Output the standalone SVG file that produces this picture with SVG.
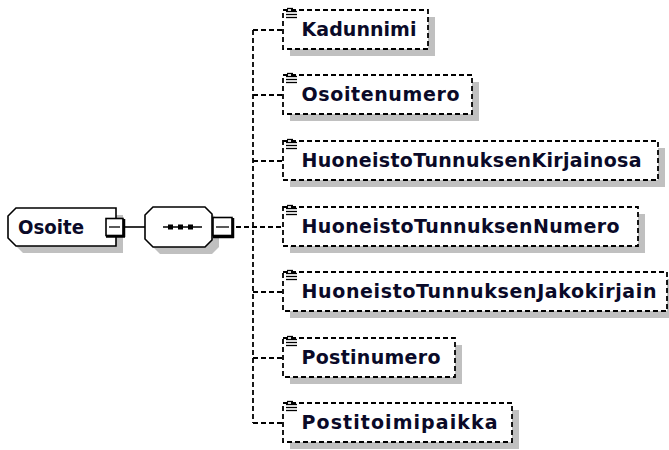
<svg xmlns="http://www.w3.org/2000/svg" width="669" height="450" viewBox="0 0 669 450">
<defs>
<style>
.shadow{fill:#c0c0c0;stroke:none}
.elem{fill:#fff;stroke:#000;stroke-width:1.8;stroke-dasharray:5 3}
.conn{fill:none;stroke:#000;stroke-width:1.8;stroke-dasharray:5 3}
.solid{fill:none;stroke:#000;stroke-width:1.6}
.node{fill:#fff;stroke:#000;stroke-width:1.6}
.lbl{font-family:"DejaVu Sans","Liberation Sans",sans-serif;font-weight:bold;font-size:19px;fill:#0a0a28}
.icon{stroke:#000;stroke-width:1.3}
</style>
<g id="ic">
<line class="icon" x1="287" y1="1.5" x2="293" y2="1.5"/>
<line class="icon" x1="286" y1="4.5" x2="297" y2="4.5"/>
<line class="icon" x1="286" y1="7.5" x2="297" y2="7.5"/>
<line class="icon" x1="286" y1="10.5" x2="297" y2="10.5"/>
</g>
</defs>
<rect width="669" height="450" fill="#fff"/>

<g id="connectors">
<line class="solid" x1="124" y1="227" x2="145" y2="227"/>
<line class="conn" x1="236" y1="227" x2="283" y2="227"/>
<line class="conn" x1="253" y1="30" x2="253" y2="423"/>
<line class="conn" x1="253" y1="30" x2="283" y2="30"/>
<line class="conn" x1="253" y1="95" x2="283" y2="95"/>
<line class="conn" x1="253" y1="161" x2="283" y2="161"/>
<line class="conn" x1="253" y1="292" x2="283" y2="292"/>
<line class="conn" x1="253" y1="358" x2="283" y2="358"/>
<line class="conn" x1="253" y1="423" x2="283" y2="423"/>
</g>

<g id="Osoite">
<polygon class="shadow" points="23,215 123,215 123,253 23,253 15,245 15,223"/>
<polygon class="node" points="16,208 116,208 116,246 16,246 8,238 8,216"/>
<text class="lbl" x="18" y="234" textLength="66" lengthAdjust="spacingAndGlyphs">Osoite</text>
<rect class="node" x="106" y="218.5" width="17" height="17"/>
<line x1="124" y1="219" x2="124" y2="237" stroke="#000" stroke-width="2.5"/>
<line x1="106" y1="236.5" x2="125" y2="236.5" stroke="#000" stroke-width="2.5"/>
<line x1="109" y1="227" x2="120" y2="227" stroke="#000" stroke-width="1.3"/>
</g>

<g id="sequence">
<polygon class="shadow" points="152,222 160,214 212,214 219,221 219,247 212,254 160,254 152,246"/>
<polygon class="node" points="145,215 153,207 205,207 212,214 212,240 205,247 153,247 145,239"/>
<line x1="163" y1="227" x2="202" y2="227" stroke="#000" stroke-width="1.5"/>
<rect x="168" y="224.5" width="5" height="5" fill="#000"/>
<rect x="178" y="224.5" width="5" height="5" fill="#000"/>
<rect x="188" y="224.5" width="5" height="5" fill="#000"/>
<rect class="node" x="213" y="217.5" width="19" height="18"/>
<line x1="233" y1="218" x2="233" y2="238" stroke="#000" stroke-width="2.5"/>
<line x1="213" y1="237" x2="234" y2="237" stroke="#000" stroke-width="2.5"/>
<line x1="216" y1="227" x2="229" y2="227" stroke="#000" stroke-width="1.3"/>
</g>

<g id="Kadunnimi">
<rect class="shadow" x="290" y="17" width="145" height="39"/>
<rect class="elem" x="283" y="10" width="145" height="39"/>
<use href="#ic" y="7"/>
<text class="lbl" x="301.5" y="36" textLength="115" lengthAdjust="spacing">Kadunnimi</text>
</g>

<g id="Osoitenumero">
<rect class="shadow" x="290" y="82" width="189" height="39"/>
<rect class="elem" x="283" y="75" width="189" height="39"/>
<use href="#ic" y="72"/>
<text class="lbl" x="301.5" y="101" textLength="158" lengthAdjust="spacing">Osoitenumero</text>
</g>

<g id="HuoneistoTunnuksenKirjainosa">
<rect class="shadow" x="290" y="148" width="375" height="39"/>
<rect class="elem" x="283" y="141" width="375" height="39"/>
<use href="#ic" y="138"/>
<text class="lbl" x="301.5" y="167" textLength="340" lengthAdjust="spacing">HuoneistoTunnuksenKirjainosa</text>
</g>

<g id="HuoneistoTunnuksenNumero">
<rect class="shadow" x="290" y="214" width="355" height="39"/>
<rect class="elem" x="283" y="207" width="355" height="39"/>
<use href="#ic" y="204"/>
<text class="lbl" x="301.5" y="233" textLength="318" lengthAdjust="spacing">HuoneistoTunnuksenNumero</text>
</g>

<g id="HuoneistoTunnuksenJakokirjain">
<rect class="shadow" x="290" y="279" width="384" height="39"/>
<rect class="elem" x="283" y="272" width="384" height="39"/>
<use href="#ic" y="269"/>
<text class="lbl" x="301.5" y="298" textLength="355" lengthAdjust="spacing">HuoneistoTunnuksenJakokirjain</text>
</g>

<g id="Postinumero">
<rect class="shadow" x="290" y="345" width="172" height="39"/>
<rect class="elem" x="283" y="338" width="172" height="39"/>
<use href="#ic" y="335"/>
<text class="lbl" x="301.5" y="364" textLength="139" lengthAdjust="spacing">Postinumero</text>
</g>

<g id="Postitoimipaikka">
<rect class="shadow" x="290" y="410" width="229" height="39"/>
<rect class="elem" x="283" y="403" width="229" height="39"/>
<use href="#ic" y="400"/>
<text class="lbl" x="301.5" y="429" textLength="196" lengthAdjust="spacing">Postitoimipaikka</text>
</g>
</svg>
